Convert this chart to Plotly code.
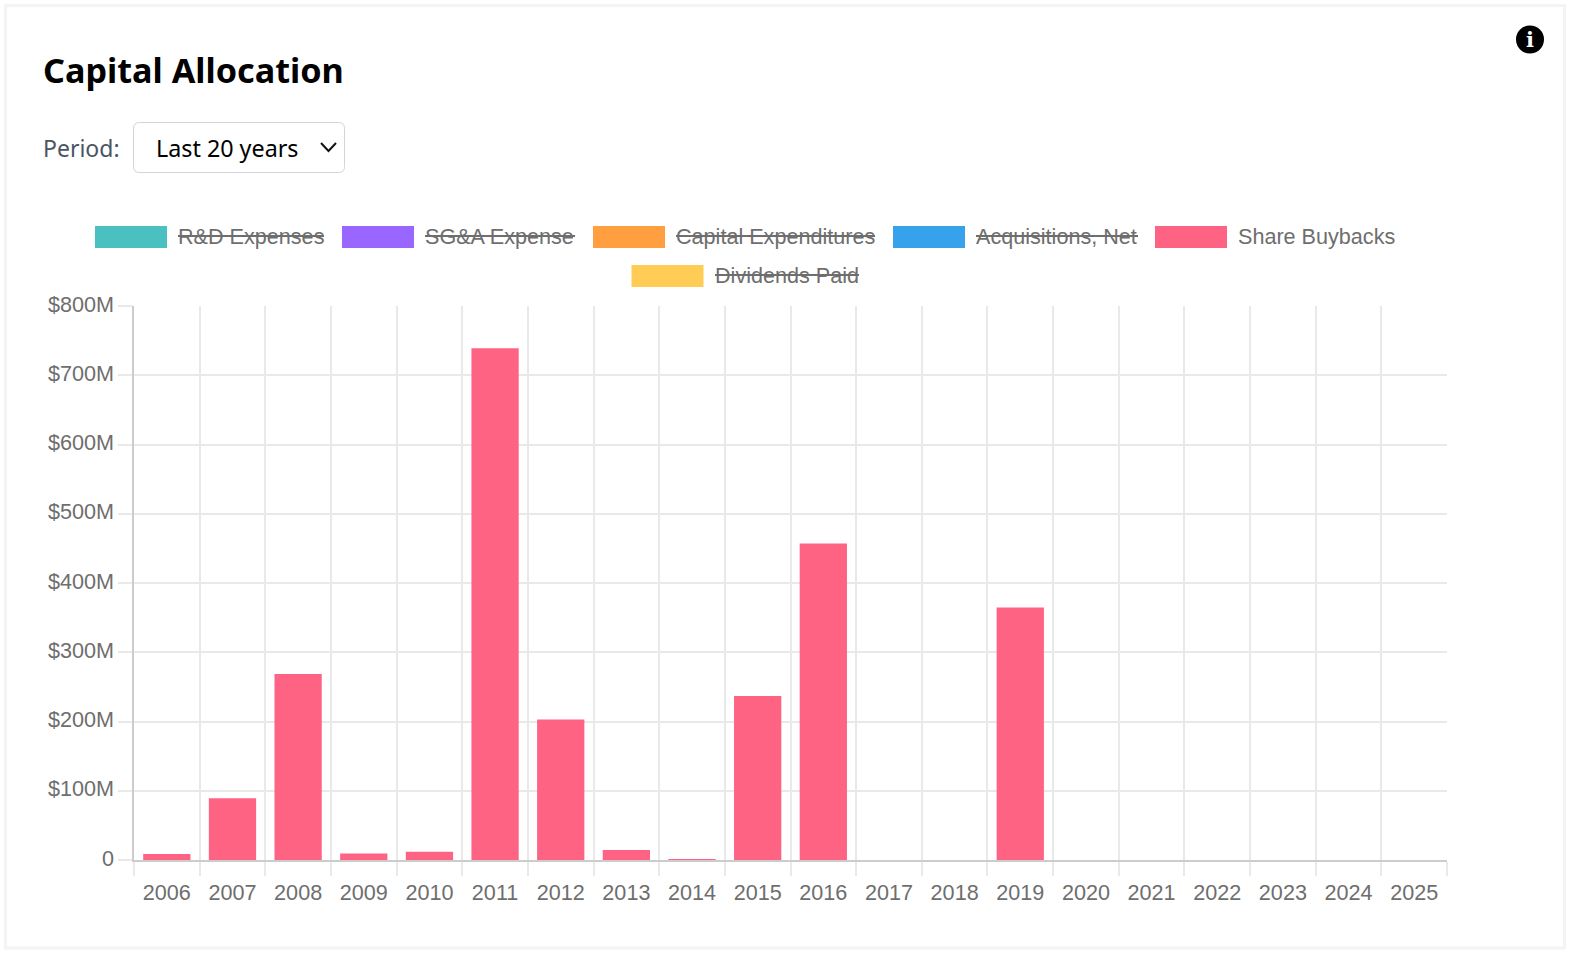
import plotly.graph_objects as go

W, H = 1569, 955
L, R, T, B = 134, 1447, 306, 860

years = [str(y) for y in range(2006, 2026)]
buybacks = [8.5, 89, 268.5, 9.5, 12, 739, 203, 14.5, 1, 237, 457, 0, 0, 364.5, 0, 0, 0, 0, 0, 0]
y_ticks = [0, 100, 200, 300, 400, 500, 600, 700, 800]
y_labels = ["0", "$100M", "$200M", "$300M", "$400M", "$500M", "$600M", "$700M", "$800M"]
legend_names = ["R&D Expenses", "SG&A Expense", "Capital Expenditures", "Acquisitions, Net", "Share Buybacks", "Dividends Paid"]
legend_colors = ["#4BC0C0", "#9966FF", "#FF9F40", "#36A2EB", "#FF6384", "#FFCD56"]
legend_hidden = [True, True, True, True, False, True]
# swatch left, label left, label right, row centre, in page pixels
legend_boxes = [(95, 178, 324, 237), (342, 425, 575, 237), (593, 676, 875, 237),
                (893, 976, 1138, 237), (1155, 1238, 1395, 237), (631.5, 715, 859, 276)]

def px(x):
    return (x - L) / (R - L)

def py(y):
    return (B - y) / (B - T)

def pixel_rect(x0, y0, x1, y1, **kw):
    return dict(type="rect", xref="paper", yref="paper", x0=px(x0), x1=px(x1), y0=py(y0), y1=py(y1), **kw)

def pixel_line(x0, y0, x1, y1, color, width):
    return dict(type="line", xref="paper", yref="paper", x0=px(x0), x1=px(x1), y0=py(y0), y1=py(y1),
                line=dict(color=color, width=width))

def pixel_text(x, y, text, size, color, family="Liberation Sans", anchor="left"):
    return dict(xref="paper", yref="paper", x=px(x), y=py(y), text=text, showarrow=False,
                xanchor=anchor, yanchor="middle", borderpad=0, borderwidth=0,
                font=dict(size=size, color=color, family=family))

shapes = [pixel_rect(5.5, 5.5, 1564.5, 948, line=dict(color="#f3f4f6", width=3), fillcolor="rgba(0,0,0,0)", layer="below")]

# period selector box and chevron
r = 6
x0, y0, x1, y1 = 133.5, 122.5, 344.5, 172.5
d = (f"M {px(x0 + r)} {py(y0)} L {px(x1 - r)} {py(y0)} Q {px(x1)} {py(y0)} {px(x1)} {py(y0 + r)} "
     f"L {px(x1)} {py(y1 - r)} Q {px(x1)} {py(y1)} {px(x1 - r)} {py(y1)} "
     f"L {px(x0 + r)} {py(y1)} Q {px(x0)} {py(y1)} {px(x0)} {py(y1 - r)} "
     f"L {px(x0)} {py(y0 + r)} Q {px(x0)} {py(y0)} {px(x0 + r)} {py(y0)} Z")
shapes.append(dict(type="path", xref="paper", yref="paper", path=d, line=dict(color="#d1d5db", width=1)))
chev = f"M {px(321)} {py(143)} L {px(328.5)} {py(151)} L {px(336)} {py(143)}"
shapes.append(dict(type="path", xref="paper", yref="paper", path=chev, line=dict(color="#111111", width=2)))

# info icon
shapes.append(dict(type="circle", xref="paper", yref="paper", x0=px(1516), x1=px(1544), y0=py(25.5), y1=py(53.5),
                   fillcolor="#000000", line=dict(width=0)))

annotations = [
    pixel_text(43, 69.5, "<b>Capital Allocation</b>", 34.2, "#000000", "Noto Sans"),
    pixel_text(43, 148.5, "Period:", 23, "#4b5563", "Noto Sans"),
    pixel_text(156, 148.5, "Last 20 years", 23.3, "#000000", "Noto Sans"),
    pixel_text(1530, 39.5, "<b>i</b>", 21, "#ffffff", "DejaVu Serif", "center"),
]

# legend
for name, color, hidden, (sx, tx, ex, cy) in zip(legend_names, legend_colors, legend_hidden, legend_boxes):
    shapes.append(pixel_rect(sx, cy - 11, sx + 72, cy + 11, fillcolor=color, line=dict(width=0)))
    annotations.append(pixel_text(tx, cy - 0.5, name, 21.6, "#6e6e6e"))
    if hidden:
        shapes.append(pixel_line(tx, cy - 1, ex, cy - 1, "#6e6e6e", 2))

fig = go.Figure(go.Bar(x=years, y=buybacks, width=0.72, marker=dict(color="#FF6384", line=dict(width=0)),
                       name="Share Buybacks", showlegend=False))

fig.update_layout(
    width=W, height=H,
    margin=dict(l=L, r=W - R, t=T, b=H - B, pad=0),
    paper_bgcolor="#ffffff", plot_bgcolor="#ffffff",
    showlegend=False, shapes=shapes, annotations=annotations,
    xaxis=dict(type="category", categoryorder="array", categoryarray=years, tickson="boundaries",
               showgrid=True, gridcolor="#e9e9e9", gridwidth=1.5, layer="below traces",
               ticks="outside", ticklen=14, tickcolor="#e9e9e9", tickwidth=1.5,
               showline=True, linecolor="#cccccc", linewidth=1.5, ticklabelstandoff=12,
               tickfont=dict(family="Liberation Sans", size=21.6, color="#6e6e6e"), tickangle=0),
    yaxis=dict(range=[0, 800], tickmode="array", tickvals=y_ticks, ticktext=y_labels,
               showgrid=True, gridcolor="#e9e9e9", gridwidth=1.5, zeroline=False, layer="below traces",
               ticks="outside", ticklen=14, tickcolor="#e9e9e9", tickwidth=1.5,
               showline=True, linecolor="#cccccc", linewidth=1.5, ticklabelshift=-2,
               tickfont=dict(family="Liberation Sans", size=21.6, color="#6e6e6e")),
)

fig.write_html("out.html", config={"displayModeBar": False},
               post_script="document.body.style.margin='0';document.body.style.overflow='hidden';window.dispatchEvent(new Event('resize'));")
